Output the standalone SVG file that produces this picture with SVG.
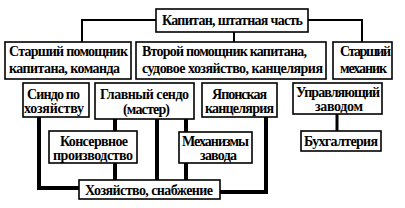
<svg xmlns="http://www.w3.org/2000/svg" width="405" height="208" viewBox="0 0 405 208">
<style>
.b{fill:#fff;stroke:#000;stroke-width:1.6}
.t{font-family:"Liberation Serif","Times New Roman",serif;font-weight:bold;font-size:14px;fill:#000}
.c{fill:none;stroke:#000;stroke-linejoin:miter;stroke-linecap:butt}
.thin{stroke-width:2}
.thick{stroke-width:4}
</style>
<rect width="405" height="208" fill="#fff"/>
<g id="connectors">
<path class="c thin" d="M82,42 V20 H156 M308,20 H362 V42 M234,32 V42"/>
<path class="c thick" d="M39,117 V188 H79 M115,119 V131 M115,163 V180 M157,119 V180 M186,119 V132 M186,163 V180 M266,117 V192 H220"/>
<path class="c" stroke-width="3" d="M337,114 V131"/>
</g>
<g id="n_captain"><rect class="b" x="156" y="9" width="152" height="23"/><text class="t" x="162" y="25" textLength="141">Капитан, штатная часть</text></g>
<g id="n_mate1"><rect class="b" x="5" y="42" width="126" height="37"/><text class="t" x="9" y="56" textLength="119">Старший помощник</text><text class="t" x="9" y="73" textLength="111">капитана, команда</text></g>
<g id="n_mate2"><rect class="b" x="136" y="42" width="190" height="37"/><text class="t" x="142" y="56" textLength="165">Второй помощник капитана,</text><text class="t" x="142" y="73" textLength="181">судовое хозяйство, канцелярия</text></g>
<g id="n_mech"><rect class="b" x="333" y="42" width="59" height="37"/><text class="t" x="340" y="56" textLength="51">Старший</text><text class="t" x="340" y="73" textLength="47">механик</text></g>
<g id="n_sindo"><rect class="b" x="23" y="83" width="66" height="34"/><text class="t" x="27" y="99" textLength="53">Синдо по</text><text class="t" x="24" y="113" textLength="60">хозяйству</text></g>
<g id="n_glav"><rect class="b" x="95" y="83" width="99" height="36"/><text class="t" x="100" y="99" textLength="89">Главный сендо</text><text class="t" x="123" y="114" textLength="47">(мастер)</text></g>
<g id="n_jap"><rect class="b" x="202" y="83" width="75" height="34"/><text class="t" x="212" y="99" textLength="55">Японская</text><text class="t" x="205" y="113" textLength="69">канцелярия</text></g>
<g id="n_upr"><rect class="b" x="293" y="83" width="89" height="31"/><text class="t" x="296" y="97" textLength="84">Управляющий</text><text class="t" x="315" y="111" textLength="48">заводом</text></g>
<g id="n_kons"><rect class="b" x="49" y="131" width="88" height="32"/><text class="t" x="60" y="146" textLength="68">Консервное</text><text class="t" x="53" y="160" textLength="80">производство</text></g>
<g id="n_meh"><rect class="b" x="179" y="132" width="73" height="31"/><text class="t" x="182" y="146" textLength="67">Механизмы</text><text class="t" x="200" y="160" textLength="37">завода</text></g>
<g id="n_buh"><rect class="b" x="301" y="131" width="80" height="20"/><text class="t" x="304" y="146" textLength="74">Бухгалтерия</text></g>
<g id="n_hoz"><rect class="b" x="79" y="180" width="141" height="19"/><text class="t" x="85" y="195" textLength="128">Хозяйство, снабжение</text></g>
</svg>
